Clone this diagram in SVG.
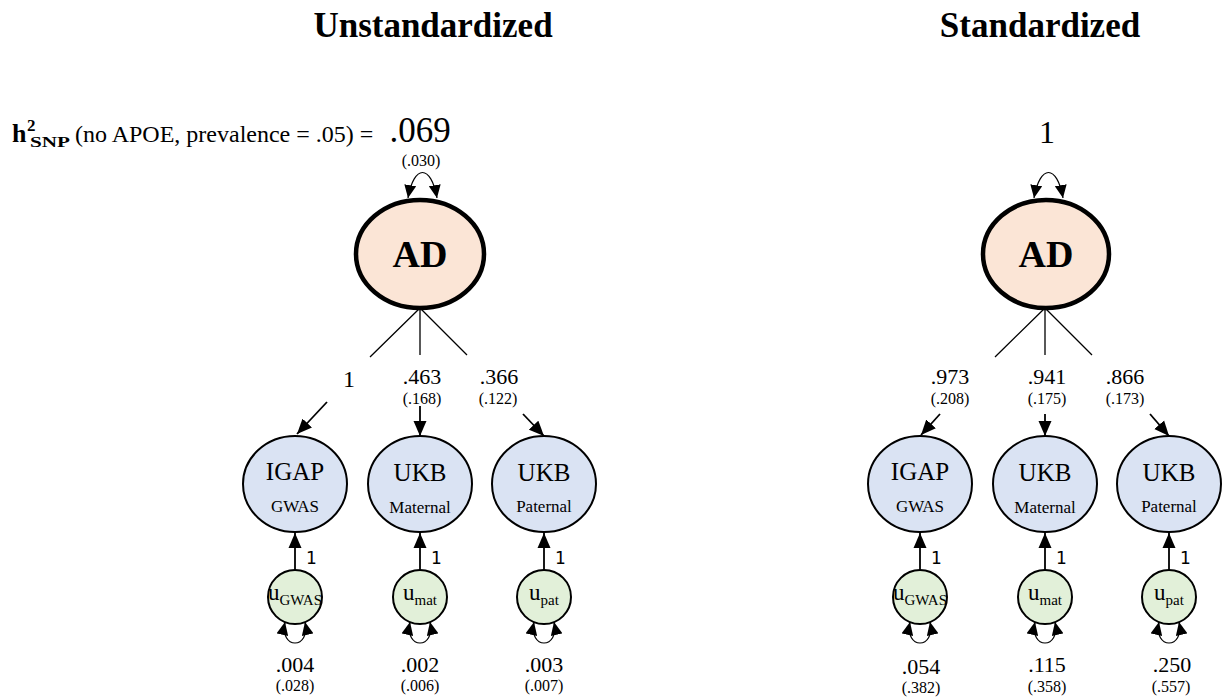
<svg xmlns="http://www.w3.org/2000/svg" width="1227" height="698" viewBox="0 0 1227 698">
<defs>
<marker id="arr" viewBox="0 0 15 14" refX="15" refY="7" markerWidth="15" markerHeight="14" orient="auto" markerUnits="userSpaceOnUse"><path d="M0,0.5 L15,7 L0,13.5 z" fill="#000"/></marker>
<marker id="lp" viewBox="0 0 13 12" refX="13" refY="6" markerWidth="13" markerHeight="12" orient="auto-start-reverse" markerUnits="userSpaceOnUse"><path d="M0,0 L13,6 L0,12 z" fill="#000"/></marker>
</defs>
<style>
text{font-family:"Liberation Serif","Times New Roman",serif;fill:#000}
.title{font-size:35px;font-weight:bold;text-anchor:middle}
.ad{fill:#FBE5D6;stroke:#000;stroke-width:4.5}
.adt{font-size:38px;font-weight:bold;text-anchor:middle}
.obs{fill:#DAE3F3;stroke:#000;stroke-width:2}
.res{fill:#E2F0D9;stroke:#000;stroke-width:2}
.big{font-size:25px;text-anchor:middle}
.sm{font-size:17px;text-anchor:middle}
.u{font-size:23px;text-anchor:middle}
.val{font-size:22px;text-anchor:middle}
.se{font-size:16px;text-anchor:middle}
.one{font-family:"DejaVu Sans","Liberation Sans",sans-serif;font-size:17px}
.ln{stroke:#000;stroke-width:1.3;fill:none}
.ar{stroke:#000;stroke-width:1.8;fill:none;marker-end:url(#arr)}
.loop{stroke:#000;stroke-width:1.2;fill:none;marker-start:url(#lp);marker-end:url(#lp)}
</style>
<rect width="1227" height="698" fill="#fff"/>

<text class="title" x="433" y="37">Unstandardized</text>
<text class="title" x="1040" y="37">Standardized</text>

<g id="h2label">
<text x="12" y="142" font-weight="bold" font-size="26px">h</text>
<text x="27" y="131" font-weight="bold" font-size="17px">2</text>
<text x="30" y="147" font-weight="bold" font-size="15px" textLength="40" lengthAdjust="spacingAndGlyphs">SNP</text>
<text x="75" y="142" font-size="24px">(no APOE, prevalence = .05) =</text>
<text x="420" y="142" font-size="35px" text-anchor="middle">.069</text>
<text class="se" x="421" y="166">(.030)</text>
</g>
<text x="1047" y="143" font-size="32px" text-anchor="middle">1</text>

<g id="connectors">
<path class="loop" d="M408 198 C414 164 431 164 437 198"/>
<path class="ln" d="M420 308 L370 357 M420 308 L420 355 M420 308 L467 355"/>
<path class="ar" d="M327 402 L297 434"/>
<path class="ar" d="M420 406 L420 436"/>
<path class="ar" d="M523 414 L544 436"/>
<path class="ar" d="M295 571 L295 533"/>
<path class="ar" d="M420 571 L420 533"/>
<path class="ar" d="M544 571 L544 533"/>
<path class="loop" d="M285 622 C279 650 311 650 305 622"/>
<path class="loop" d="M410 622 C404 650 436 650 430 622"/>
<path class="loop" d="M534 622 C528 650 560 650 554 622"/>

<path class="loop" d="M1034 198 C1040 164 1057 164 1063 198"/>
<path class="ln" d="M1045 308 L995 357 M1045 308 L1045 355 M1045 308 L1092 355"/>
<path class="ar" d="M940 414 L921 435"/>
<path class="ar" d="M1045 414 L1045 436"/>
<path class="ar" d="M1150 414 L1169 436"/>
<path class="ar" d="M920 571 L920 533"/>
<path class="ar" d="M1045 571 L1045 533"/>
<path class="ar" d="M1169 571 L1169 533"/>
<path class="loop" d="M910 622 C904 650 936 650 930 622"/>
<path class="loop" d="M1035 622 C1029 650 1061 650 1055 622"/>
<path class="loop" d="M1159 622 C1153 650 1185 650 1179 622"/>
</g>

<g id="labels">
<text x="349" y="387" font-size="24px" text-anchor="middle">1</text>
<text class="val" x="422" y="384">.463</text><text class="se" x="422" y="404">(.168)</text>
<text class="val" x="499" y="384">.366</text><text class="se" x="498" y="404">(.122)</text>
<text class="one" x="306" y="564">1</text>
<text class="one" x="431" y="564">1</text>
<text class="one" x="555" y="564">1</text>
<text class="val" x="295" y="672">.004</text><text class="se" x="295" y="691">(.028)</text>
<text class="val" x="420" y="672">.002</text><text class="se" x="420" y="691">(.006)</text>
<text class="val" x="544" y="672">.003</text><text class="se" x="544" y="691">(.007)</text>

<text class="val" x="950" y="384">.973</text><text class="se" x="950" y="404">(.208)</text>
<text class="val" x="1047" y="384">.941</text><text class="se" x="1047" y="404">(.175)</text>
<text class="val" x="1125" y="384">.866</text><text class="se" x="1125" y="404">(.173)</text>
<text class="one" x="931" y="564">1</text>
<text class="one" x="1056" y="564">1</text>
<text class="one" x="1180" y="564">1</text>
<text class="val" x="921" y="674">.054</text><text class="se" x="921" y="693">(.382)</text>
<text class="val" x="1047" y="672">.115</text><text class="se" x="1047" y="692">(.358)</text>
<text class="val" x="1172" y="672">.250</text><text class="se" x="1171" y="692">(.557)</text>
</g>

<g id="AD_unstd"><ellipse class="ad" cx="420" cy="254" rx="64" ry="54"/><text class="adt" x="420" y="267">AD</text></g>
<g id="IGAP_unstd"><ellipse class="obs" cx="295" cy="484" rx="52" ry="48"/><text class="big" x="295" y="480">IGAP</text><text class="sm" x="295" y="512">GWAS</text></g>
<g id="UKBmat_unstd"><ellipse class="obs" cx="420" cy="484" rx="52" ry="48"/><text class="big" x="420" y="481">UKB</text><text class="sm" x="420" y="513">Maternal</text></g>
<g id="UKBpat_unstd"><ellipse class="obs" cx="544" cy="484" rx="52" ry="48"/><text class="big" x="544" y="481">UKB</text><text class="sm" x="544" y="512">Paternal</text></g>
<g id="uGWAS_unstd"><circle class="res" cx="295" cy="597" r="27"/><text class="u" x="295" y="600">u<tspan font-size="15px" dy="5">GWAS</tspan></text></g>
<g id="umat_unstd"><circle class="res" cx="420" cy="597" r="27"/><text class="u" x="420" y="600">u<tspan font-size="15px" dy="5">mat</tspan></text></g>
<g id="upat_unstd"><circle class="res" cx="544" cy="597" r="27"/><text class="u" x="544" y="600">u<tspan font-size="15px" dy="5">pat</tspan></text></g>

<g id="AD_std"><ellipse class="ad" cx="1046" cy="254" rx="63" ry="54"/><text class="adt" x="1046" y="267">AD</text></g>
<g id="IGAP_std"><ellipse class="obs" cx="920" cy="484" rx="52" ry="48"/><text class="big" x="920" y="480">IGAP</text><text class="sm" x="920" y="512">GWAS</text></g>
<g id="UKBmat_std"><ellipse class="obs" cx="1045" cy="484" rx="52" ry="48"/><text class="big" x="1045" y="481">UKB</text><text class="sm" x="1045" y="513">Maternal</text></g>
<g id="UKBpat_std"><ellipse class="obs" cx="1169" cy="484" rx="52" ry="48"/><text class="big" x="1169" y="481">UKB</text><text class="sm" x="1169" y="512">Paternal</text></g>
<g id="uGWAS_std"><circle class="res" cx="920" cy="597" r="27"/><text class="u" x="920" y="600">u<tspan font-size="15px" dy="5">GWAS</tspan></text></g>
<g id="umat_std"><circle class="res" cx="1045" cy="597" r="27"/><text class="u" x="1045" y="600">u<tspan font-size="15px" dy="5">mat</tspan></text></g>
<g id="upat_std"><circle class="res" cx="1169" cy="597" r="27"/><text class="u" x="1169" y="600">u<tspan font-size="15px" dy="5">pat</tspan></text></g>
</svg>
